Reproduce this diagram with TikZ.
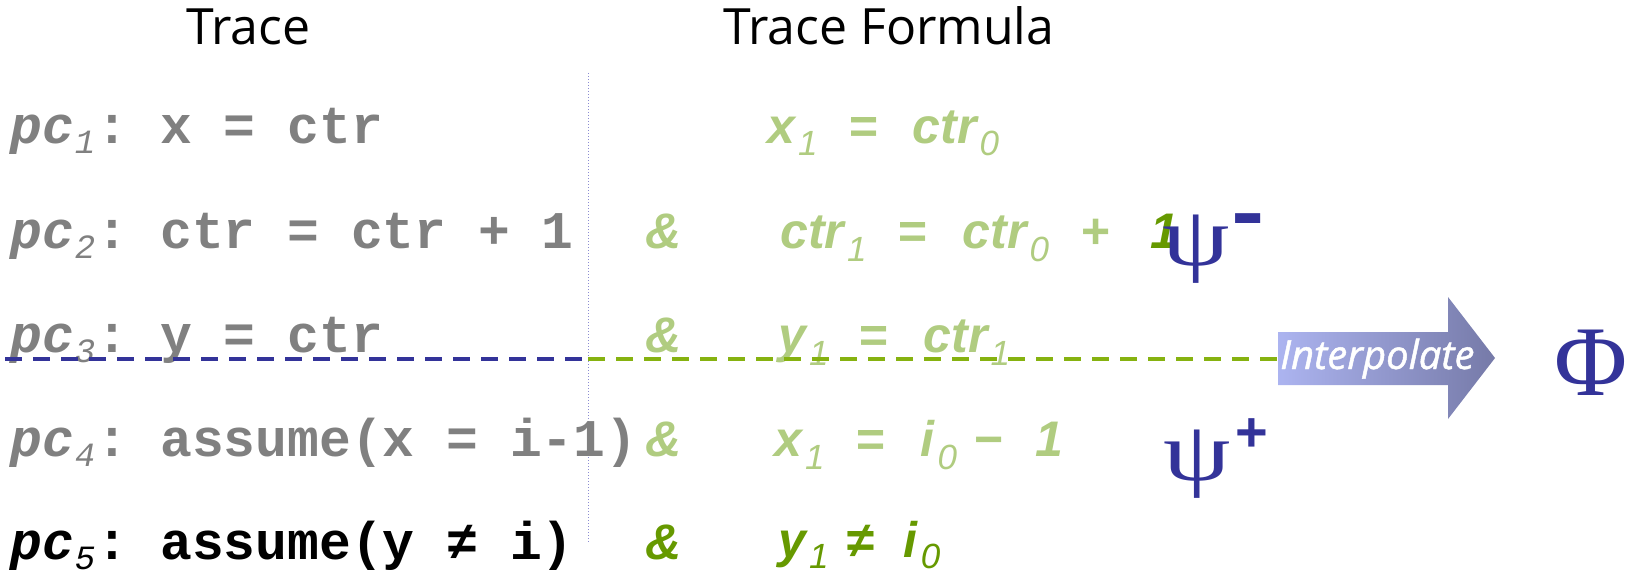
\documentclass[tikz,border=0pt]{standalone}
\usepackage{fontspec}
\setmainfont{Liberation Sans}
\newfontfamily\codefont{Liberation Mono}
\newfontfamily\formfont{Liberation Sans}
\newfontfamily\headfont{Open Sans}
\newfontfamily\interfont{Open Sans}[ItalicFeatures={FakeBold=1.2}]
\newfontfamily\greekfont{Liberation Serif}
\frenchspacing
\definecolor{codegray}{RGB}{128,128,128}
\definecolor{lgreen}{RGB}{176,204,128}
\definecolor{dgreen}{RGB}{102,153,0}
\definecolor{dashgreen}{RGB}{134,178,16}
\definecolor{navy}{RGB}{51,51,153}
\definecolor{vlinecol}{RGB}{140,140,210}
\definecolor{arrowL}{RGB}{172,180,240}
\definecolor{arrowR}{RGB}{118,122,168}
\newcommand\csub[1]{\hspace{1pt}\raisebox{-10pt}{\fontsize{34}{34}\codefont\mdseries\itshape #1}\hspace{1.5pt}}
\newcommand\fsub[2][13pt]{\hspace{3pt}\raisebox{-#1}{\fontsize{35}{35}\formfont\mdseries\itshape #2}}
\newcommand\wpsi{\scalebox{1.28}[1]{ψ}}
\tikzset{
  header/.style={anchor=base west, inner sep=0pt, font=\fontsize{50}{50}\headfont},
  codeline/.style={anchor=base west, inner sep=0pt, text=codegray, font=\fontsize{53}{53}\codefont\bfseries\frenchspacing},
  formline/.style={anchor=base west, inner sep=0pt, text=lgreen, font=\fontsize{50}{50}\formfont\bfseries\itshape},
  amp/.style={anchor=base west, inner sep=0pt, text=lgreen, font=\fontsize{50}{50}\formfont\bfseries\itshape},
  greek/.style={anchor=base west, inner sep=0pt, text=navy, font=\greekfont},
  supsign/.style={anchor=base west, inner sep=0pt, text=navy},
  dashline/.style={line width=4pt, dash pattern=on 17pt off 11pt},
}
\begin{document}
\begin{tikzpicture}[x=1pt,y=-1pt]
\useasboundingbox (0,0) rectangle (1630,575);
% headers
\node[header] (h1) at (186,45) {Trace};
\node[header] (h2) at (723,45) {Trace Formula};
% separator
\coordinate (vtop) at (588,73);
\coordinate (vbot) at (588,543);
\draw[vlinecol, dotted, line width=1pt] (vtop) -- (vbot);
% code lines
\node[codeline] (c1) at (10,143) {{\itshape pc}\csub{1}: x = ctr};
\node[codeline] (c2) at (10,248) {{\itshape pc}\csub{2}: ctr = ctr + 1};
\node[codeline] (c3) at (10,352) {{\itshape pc}\csub{3}: y = ctr};
\node[codeline] (c4) at (10,456) {{\itshape pc}\csub{4}: assume(x = i-1)};
\node[codeline, text=black] (c5) at (10,559) {{\itshape pc}\csub{5}: assume(y ≠ i)};
% ampersands
\node[amp] (a2) at (645,248) {\&};
\node[amp] (a3) at (645,352) {\&};
\node[amp] (a4) at (645,456) {\&};
\node[amp, text=dgreen] (a5) at (645,559) {\&};
% formulas
\node[formline] (f1) at (767,143) {x\fsub{1}\hspace{31pt}=\hspace{35pt}ctr\fsub{0}};
\node[formline] (f2) at (780,248) {ctr\fsub{1}\hspace{31pt}=\hspace{36pt}ctr\fsub{0}\hspace{31pt}+};
\node[formline, text=dgreen] (f2b) at (1150,248) {1};
\node[formline] (f3) at (778,352) {y\fsub{1}\hspace{30pt}=\hspace{36pt}ctr\fsub{1}};
\node[formline] (f4) at (774,456) {x\fsub{1}\hspace{31pt}=\hspace{36pt}i\fsub{0}\hspace{16pt}−\hspace{33pt}1};
\node[formline, text=dgreen] (f5) at (778,557) {y\fsub[11pt]{1}\hspace{18pt}≠\hspace{30pt}i\fsub[11pt]{0}};
% cut line
\coordinate (dl) at (5,359);
\coordinate (dm) at (588,359);
\coordinate (dr) at (1277,359);
\draw[dashline, navy] (dl) -- (dm);
\draw[dashline, dashgreen] (dm) -- (dr);
% arrow
\shade[left color=arrowL, right color=arrowR] (1278,332) -- (1448,332) -- (1448,297) -- (1495,358) -- (1448,419) -- (1448,385) -- (1278,385) -- cycle;
\node[anchor=base west, inner sep=0pt, text=white, font=\fontsize{40}{40}\interfont\itshape] (interp) at (1280,369) {Interpolate};
% psi and phi
\node[greek, font=\fontsize{84}{84}\greekfont] (psim) at (1162,265) {\wpsi};
\node[supsign, font=\fontsize{50}{50}\formfont\bfseries] (minus) at (1233,248) {\scalebox{1}[1.8]{−}};
\node[greek, font=\fontsize{84}{84}\greekfont] (psip) at (1163,480) {\wpsi};
\node[supsign, font=\fontsize{56}{56}\formfont\bfseries] (plus) at (1235,451) {+};
\node[greek, font=\fontsize{100}{100}\greekfont] (phi) at (1554,395) {Φ};
\end{tikzpicture}
\end{document}
